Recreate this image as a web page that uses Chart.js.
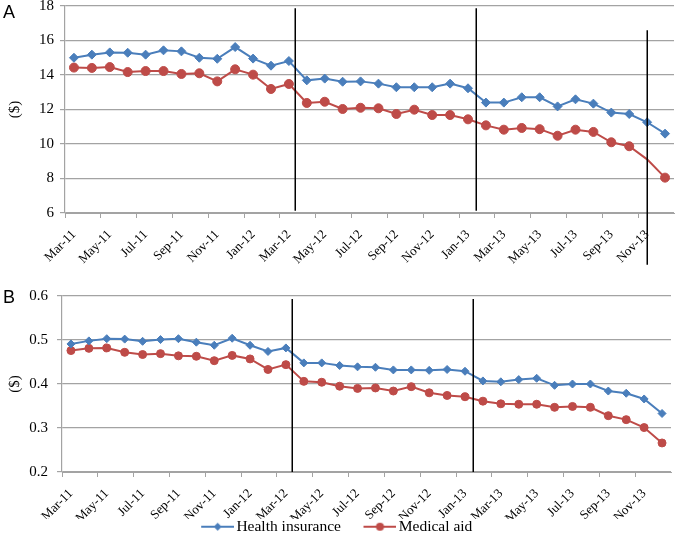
<!DOCTYPE html>
<html>
<head>
<meta charset="utf-8">
<script src="https://cdn.jsdelivr.net/npm/chart.js@4.4.1/dist/chart.umd.min.js"></script>
<style>
  html, body { margin: 0; padding: 0; background: #fff; overflow: hidden; }
  #wrap { position: relative; width: 675px; height: 534px; overflow: hidden; }
  .panel { position: absolute; }
  #panelA { left: 0; top: 0; width: 675px; height: 270px; }
  #panelB { left: -20px; top: 270px; width: 695px; height: 264px; }
  .tag { position: absolute; left: 3px; line-height: 1; font: 18px "Liberation Sans", Arial, sans-serif; color: #000; }
</style>
</head>
<body>
<div id="wrap">
  <div class="panel" id="panelA"><canvas id="chartA"></canvas></div>
  <div class="panel" id="panelB"><canvas id="chartB"></canvas></div>
  <div class="tag" style="top:2px">A</div>
  <div class="tag" style="top:287px">B</div>
</div>
<script>
// months, Mar-11 .. Dec-13
const months = [
  "Mar-11", "Apr-11", "May-11", "Jun-11", "Jul-11", "Aug-11", "Sep-11", "Oct-11", "Nov-11", "Dec-11",
  "Jan-12", "Feb-12", "Mar-12", "Apr-12", "May-12", "Jun-12", "Jul-12", "Aug-12", "Sep-12", "Oct-12", "Nov-12", "Dec-12",
  "Jan-13", "Feb-13", "Mar-13", "Apr-13", "May-13", "Jun-13", "Jul-13", "Aug-13", "Sep-13", "Oct-13", "Nov-13", "Dec-13",
];

// panel A ($)
const healthA = [
  15.0, 15.18, 15.31, 15.29, 15.18, 15.43, 15.37, 15.0, 14.94, 15.62,
  14.95, 14.54, 14.81, 13.69, 13.79, 13.61, 13.63, 13.5, 13.29, 13.29, 13.29, 13.5,
  13.23, 12.4, 12.4, 12.71, 12.71, 12.18, 12.59, 12.34, 11.82, 11.74, 11.26, 10.6,
];
const medicalA = [
  14.43, 14.41, 14.46, 14.17, 14.23, 14.23, 14.06, 14.1, 13.63, 14.33,
  14.02, 13.19, 13.48, 12.38, 12.45, 12.03, 12.1, 12.07, 11.74, 11.99, 11.68, 11.68,
  11.43, 11.08, 10.83, 10.93, 10.86, 10.48, 10.83, 10.7, 10.1, 9.87, 9.11, 8.05,
];

// panel B ($)
const healthB = [
  0.491, 0.498, 0.503, 0.502, 0.497, 0.501, 0.503, 0.495, 0.488, 0.504,
  0.488, 0.474, 0.482, 0.448, 0.448, 0.442, 0.439, 0.438, 0.432, 0.432, 0.431, 0.433,
  0.429, 0.407, 0.405, 0.41, 0.413, 0.397, 0.4, 0.4, 0.384, 0.379, 0.366, 0.333,
];
const medicalB = [
  0.476, 0.481, 0.482, 0.472, 0.467, 0.469, 0.464, 0.463, 0.453, 0.465,
  0.457, 0.433, 0.444, 0.406, 0.404, 0.395, 0.39, 0.391, 0.384, 0.394, 0.38, 0.374,
  0.371, 0.361, 0.355, 0.354, 0.354, 0.347, 0.349, 0.347, 0.328, 0.319, 0.301, 0.266,
];

// vertical separators, in month-index units
const breaksA = [12.35, 22.45, 32];
const breaksB = [12.35, 22.45];

// medical aid marker that is not drawn in panel A
const noMarkerA = "Nov-13";

const BLUE = "#4a7ebb";
const RED = "#be4b48";
const GRID = "#a3a3a3";

Chart.defaults.font.family = '"Liberation Serif", "Times New Roman", serif';
Chart.defaults.color = "#000";

// legend swatch: line with marker, sitting at the right end of the image
function legendIcon(color, style) {
  const w = 61, len = 33;
  const c = document.createElement("canvas");
  c.width = w;
  c.height = 12;
  const g = c.getContext("2d");
  g.strokeStyle = color;
  g.fillStyle = color;
  g.lineWidth = 2;
  g.beginPath();
  g.moveTo(w - len, 6);
  g.lineTo(w, 6);
  g.stroke();
  g.beginPath();
  const cx = w - len / 2;
  if (style === "circle") {
    g.arc(cx, 6, 4, 0, Math.PI * 2);
  } else {
    g.moveTo(cx, 2); g.lineTo(cx + 4, 6); g.lineTo(cx, 10); g.lineTo(cx - 4, 6);
    g.closePath();
  }
  g.fill();
  return c;
}

const breakLines = {
  id: "breakLines",
  afterDatasetsDraw(chart, args, opts) {
    const { ctx, scales: { x, y } } = chart;
    ctx.save();
    ctx.strokeStyle = "#000";
    ctx.lineWidth = 1.5;
    opts.lines.forEach((l) => {
      const px = Math.round(x.getPixelForValue(l.at)) + 0.25;
      ctx.beginPath();
      ctx.moveTo(px, y.getPixelForValue(l.from));
      ctx.lineTo(px, y.getPixelForValue(l.to));
      ctx.stroke();
    });
    ctx.restore();
  },
};

function xScale(height) {
  return {
    type: "category",
    offset: true,
    afterFit: (s) => {
      s.height = height;
      s.paddingLeft = 0;
      s.paddingRight = 0;
    },
    grid: {
      drawOnChartArea: false,
      offset: true,
      tickLength: 5,
      color: (c) => (c.index % 2 === 0 ? GRID : "rgba(0,0,0,0)"),
    },
    border: { color: GRID, width: 1 },
    ticks: {
      autoSkip: false,
      maxRotation: 45,
      minRotation: 45,
      padding: 9,
      font: { size: 13 },
      callback: function (v, i) { return i % 2 === 0 ? this.getLabelForValue(v) : ""; },
    },
  };
}

function yScale(min, max, step, width, digits, tickPad, titlePad) {
  return {
    min, max,
    afterFit: (s) => {
      s.width = width;
      s.paddingTop = 0;
      s.paddingBottom = 0;
    },
    grid: { color: GRID, lineWidth: 1.2, tickLength: 5 },
    border: { color: GRID, width: 1.2 },
    ticks: {
      stepSize: step,
      padding: tickPad,
      font: { size: 15 },
      callback: (v) => v.toFixed(digits),
    },
    title: {
      display: true,
      text: "($)",
      font: { size: 15 },
      padding: { top: titlePad, bottom: 0 },
    },
  };
}

function series(label, data, color, style, radius, hide) {
  return {
    label,
    data,
    borderColor: color,
    backgroundColor: color,
    borderWidth: 2,
    pointStyle: style,
    pointRadius: months.map((m) => (m === hide ? 0 : radius)),
    pointBorderWidth: 1,
    tension: 0,
  };
}

new Chart(document.getElementById("chartA"), {
  type: "line",
  data: {
    labels: months,
    datasets: [
      series("Health insurance", healthA, BLUE, "rectRot", 4.5),
      series("Medical aid", medicalA, RED, "circle", 4.5, noMarkerA),
    ],
  },
  options: {
    responsive: true,
    maintainAspectRatio: false,
    animation: false,
    layout: { autoPadding: false, padding: { top: 6, right: 1, left: 0, bottom: 0 } },
    plugins: {
      legend: { display: false },
      tooltip: { enabled: false },
      breakLines: {
        lines: [
          { at: breaksA[0], from: 17.87, to: 6.13 },
          { at: breaksA[1], from: 17.87, to: 6.13 },
          { at: breaksA[2], from: 16.6, to: 3.0 },
        ],
      },
    },
    scales: {
      x: xScale(57),
      y: yScale(6, 18, 2, 65, 0, 6, 6),
    },
  },
  plugins: [breakLines],
});

new Chart(document.getElementById("chartB"), {
  type: "line",
  data: {
    labels: months,
    datasets: [
      series("Health insurance", healthB, BLUE, "rectRot", 4),
      series("Medical aid", medicalB, RED, "circle", 4),
    ],
  },
  options: {
    responsive: true,
    maintainAspectRatio: false,
    animation: false,
    layout: { autoPadding: false, padding: { top: 26, right: 4, left: 0, bottom: -10.5 } },
    plugins: {
      tooltip: { enabled: false },
      legend: {
        position: "bottom",
        labels: {
          usePointStyle: true,
          pointStyleWidth: 50,
          padding: 0,
          font: { size: 15.5 },
          color: "#000",
          generateLabels: (chart) => chart.data.datasets.map((d, i) => ({
            text: d.label,
            datasetIndex: i,
            pointStyle: legendIcon(d.borderColor, d.pointStyle === "circle" ? "circle" : "diamond"),
            lineWidth: 0,
            strokeStyle: "rgba(0,0,0,0)",
            fillStyle: "rgba(0,0,0,0)",
          })),
        },
      },
      breakLines: {
        lines: [
          { at: breaksB[0], from: 0.593, to: 0.2 },
          { at: breaksB[1], from: 0.593, to: 0.2 },
        ],
      },
    },
    scales: {
      x: xScale(47),
      y: yScale(0.2, 0.6, 0.1, 82, 1, 9, 26),
    },
  },
  plugins: [breakLines],
});
</script>
</body>
</html>
